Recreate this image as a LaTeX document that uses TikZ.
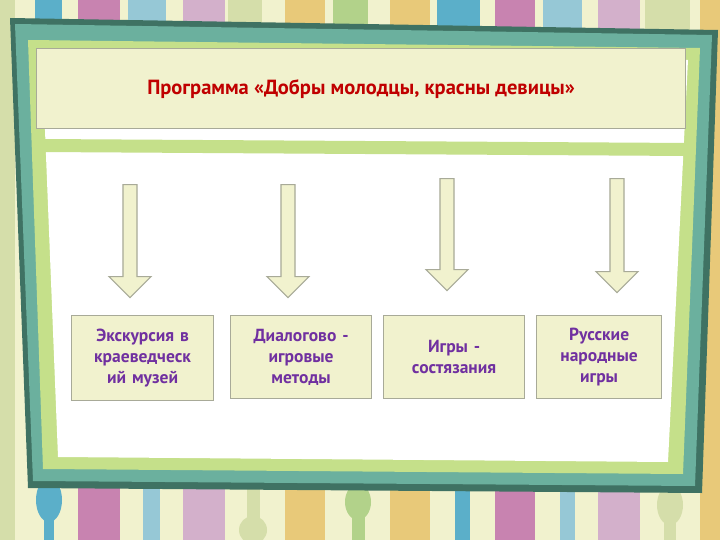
\documentclass[tikz,border=0pt]{standalone}
\usepackage{fontspec}
\setmainfont{PT Sans}
\usetikzlibrary{shapes.arrows}
\definecolor{cream}{HTML}{F1F2CE}
\definecolor{sb}{HTML}{5BAFC9}\definecolor{sp}{HTML}{C883B0}\definecolor{slb}{HTML}{96C8D6}
\definecolor{sl}{HTML}{D3B0CB}\definecolor{sg}{HTML}{D5DEAA}\definecolor{sy}{HTML}{E8C979}
\definecolor{sgr}{HTML}{B2D28A}
\definecolor{fdark}{HTML}{3F7263}\definecolor{fteal}{HTML}{6BB09E}\definecolor{fgreen}{HTML}{C5E08A}
\definecolor{bord}{HTML}{A8AA98}\definecolor{purp}{HTML}{7030A0}\definecolor{dred}{HTML}{C00000}
\tikzset{
 box/.style={draw=bord,line width=1.2pt,fill=cream,anchor=north west,inner sep=0pt,align=center,text=purp,font=\bfseries\fontsize{17.5}{21}\selectfont},
 arr/.style={draw=bord,line width=1.2pt,fill=cream,shape=single arrow,shape border rotate=270,minimum width=42pt,single arrow head extend=11pt,single arrow tip angle=90,inner sep=0pt,text width=10pt,anchor=north}
}
\begin{document}
\begin{tikzpicture}[x=1pt,y=-1pt]
\useasboundingbox (0,0) rectangle (720,540);
\fill[cream] (0,0) rectangle (720,540);
% top stripes
\foreach \a/\b/\c in {35/62/sb,85/100/sp,128/166/slb,190/205/sl,228/262/sg,290/305/sy,333/368/sgr,395/412/sy,437/480/sb,503/518/sp,543/582/slb,605/622/sl,645/690/sg}
  \fill[\c] (\a,0) rectangle (\b,40);
% bottom stripes
\foreach \a/\b/\c in {0/15/sg,78/120/sp,143/160/slb,183/225/sl,285/325/sy,390/430/sy,455/470/sb,495/535/sp,560/575/slb,598/640/sl,700/720/sy}
  \fill[\c] (\a,0) rectangle (\b,540);
\fill[sb] (44,540) rectangle (54,480); \fill[sb] (49,500) ellipse (13 and 22);
\fill[sg] (247,540) rectangle (260,470); \fill[sg] (253,530) ellipse (14 and 14);
\fill[sgr] (352,540) rectangle (365,470); \fill[sgr] (358,502) ellipse (13 and 18);
\fill[sg] (664,540) rectangle (676,470); \fill[sg] (670,505) ellipse (13 and 20);
\fill[sy] (398,0) rectangle (409,30); \fill[sy] (403,5) ellipse (12 and 12);
% frame
\fill[fdark] (10,18) -- (718,30) -- (702,493) -- (28,488) -- cycle;
\fill[fteal] (15,24) -- (712,35) -- (695,486) -- (33,481) -- cycle;
\fill[fgreen] (28,40) -- (700,48) -- (683,474) -- (43,469) -- cycle;
\fill[white] (42,55) -- (688,60) -- (668,462) -- (58,457) -- cycle;
\fill[fgreen] (40,139) -- (690,143) -- (690,156) -- (40,152) -- cycle;
% title
\node[draw=bord,line width=1.2pt,fill=cream,anchor=north west,minimum width=649pt,minimum height=80pt,inner sep=0pt,text=dred,font=\bfseries\fontsize{20.5}{24}\selectfont] (t) at (36,48) {Программа «Добры молодцы, красны девицы»};
% arrows
\node[arr,minimum height=113pt] (a1) at (130,184) {};
\node[arr,minimum height=113pt] (a2) at (288,184) {};
\node[arr,minimum height=112pt] (a3) at (447,178) {};
\node[arr,minimum height=114pt] (a4) at (617,178) {};
% boxes
\node[box,minimum width=142pt,minimum height=85pt,text width=135pt] (b1) at (71,315) {Экскурсия в\\краеведческ\\ий музей};
\node[box,minimum width=141pt,minimum height=83pt,text width=135pt] (b2) at (230,315) {Диалогово -\\игровые\\методы};
\node[box,minimum width=141pt,minimum height=83pt,text width=135pt] (b3) at (383,315) {Игры -\\состязания};
\node[box,minimum width=125pt,minimum height=83pt,text width=120pt] (b4) at (536,315) {Русские\\народные\\игры};
\end{tikzpicture}
\end{document}
